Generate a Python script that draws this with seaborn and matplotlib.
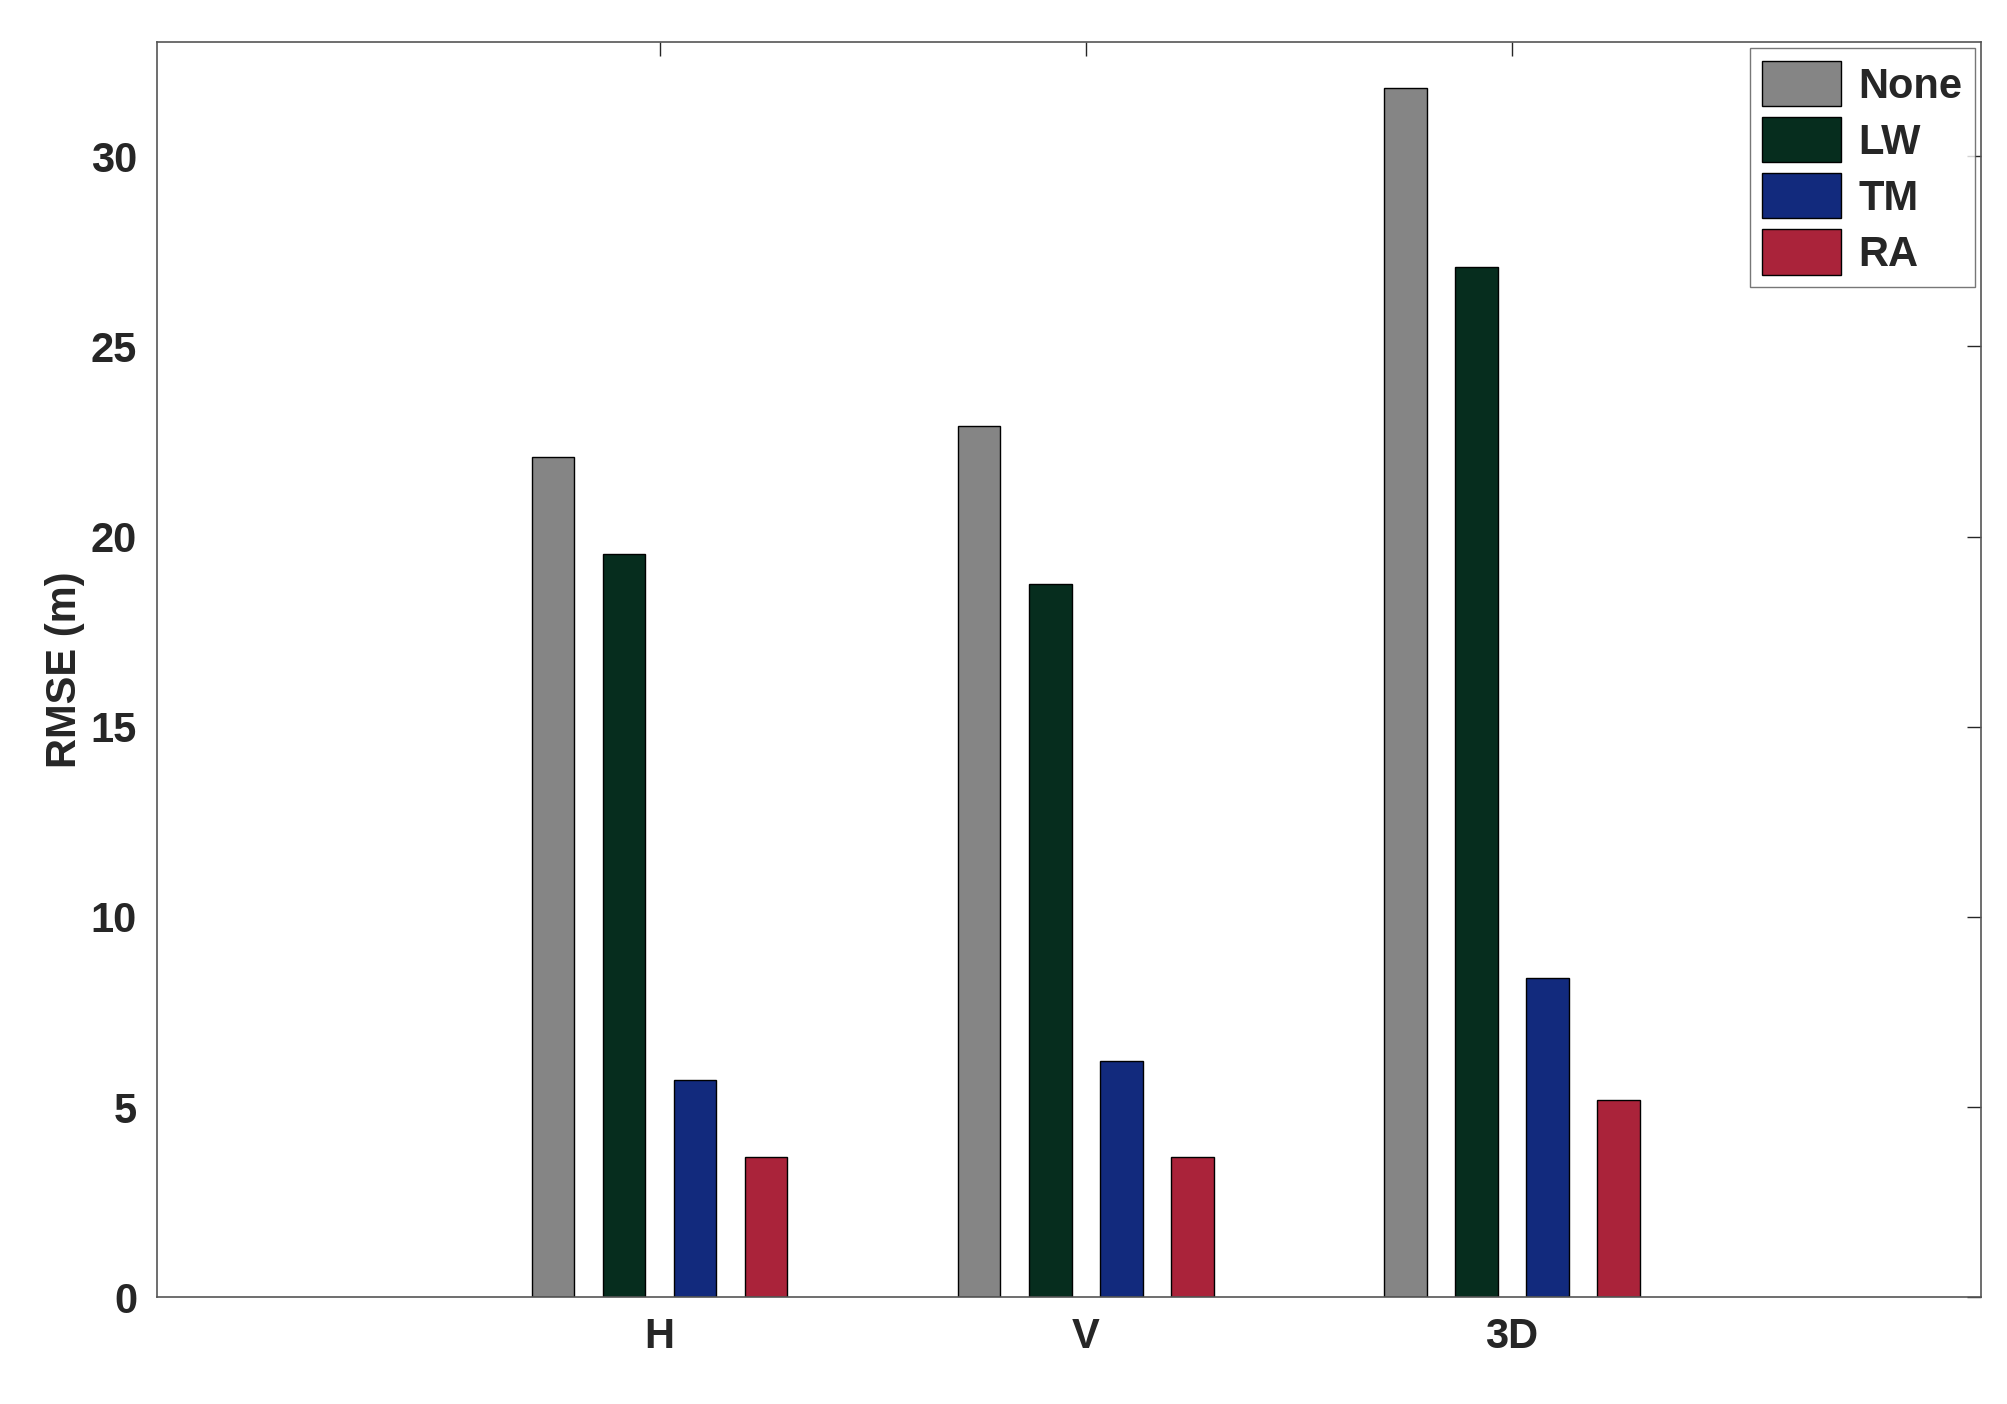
import pandas as pd
import matplotlib
matplotlib.use("Agg")
import matplotlib.pyplot as plt
import seaborn as sns

categories = ["H", "V", "3D"]
methods = ["None", "LW", "TM", "RA"]
none_vals = [22.1, 22.9, 31.8]
lw_vals = [19.55, 18.75, 27.1]
tm_vals = [5.7, 6.2, 8.4]
ra_vals = [3.7, 3.7, 5.2]
colors = ["#858585", "#00331f", "#00208f", "#c00d2b"]

rows = []
for m, vals in zip(methods, [none_vals, lw_vals, tm_vals, ra_vals]):
    for c, v in zip(categories, vals):
        rows.append({"cat": c, "method": m, "rmse": v})
df = pd.DataFrame(rows)

sns.set_style("white")
plt.rcParams["font.family"] = ["Liberation Sans", "DejaVu Sans"]
plt.rcParams["font.weight"] = "bold"

fig = plt.figure(figsize=(20.07, 14.04), dpi=100)
ax = fig.add_axes([0.078, 0.076, 0.909, 0.894])
sns.barplot(data=df, x="cat", y="rmse", hue="method", order=categories,
            hue_order=methods, palette=colors, width=0.667, gap=0.4,
            edgecolor="black", linewidth=1, ax=ax)

ax.set_xlim(-1.18, 3.1)
ax.set_ylim(0, 33)
ax.set_yticks([0, 5, 10, 15, 20, 25, 30])
ax.set_xlabel("")
ax.set_ylabel("RMSE (m)", fontsize=30, fontweight="bold")
ax.tick_params(axis="both", direction="in", length=10, width=1,
               labelsize=30, top=True, right=True, pad=14)
for lab in ax.get_xticklabels() + ax.get_yticklabels():
    lab.set_fontweight("bold")
for s in ax.spines.values():
    s.set_color("#555555")
    s.set_linewidth(1.2)

leg = ax.legend(loc="upper right", fontsize=30, frameon=True, fancybox=False,
                handlelength=1.9, handleheight=1.3, borderpad=0.3,
                labelspacing=0.25, borderaxespad=0.15, handletextpad=0.4)
leg.get_frame().set_edgecolor("#555555")
for t in leg.get_texts():
    t.set_fontweight("bold")

fig.savefig("out.png", dpi=100)
